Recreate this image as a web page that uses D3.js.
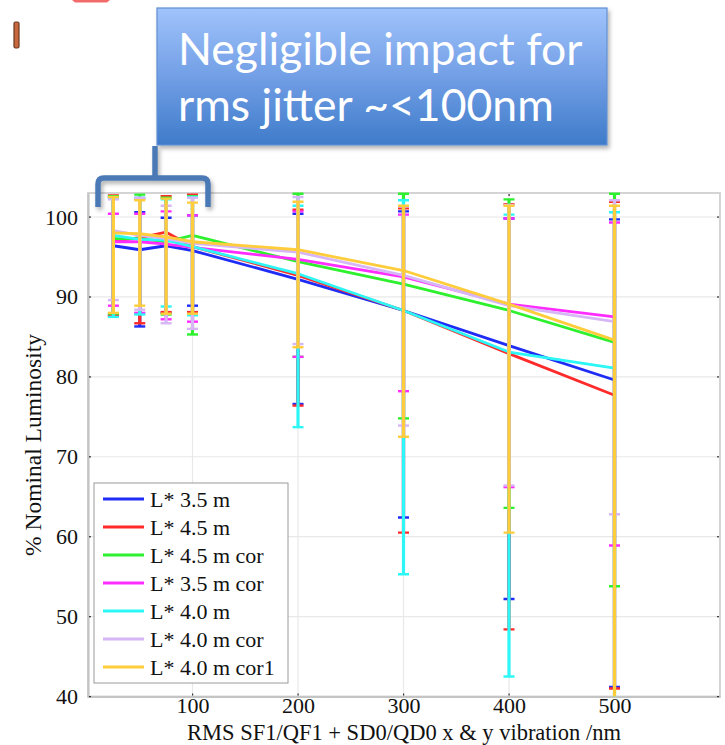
<!DOCTYPE html>
<html>
<head>
<meta charset="utf-8">
<script src="https://cdn.jsdelivr.net/npm/d3@7"></script>
<style>
  body { margin: 0; background: #fff; }
  svg { display: block; }
</style>
</head>
<body>
<div id="chart"></div>
<script>
// rms vibration amplitude (nm)
const vibration = [25, 50, 75, 100, 200, 300, 400, 500];

const seriesNames = ['L* 3.5 m', 'L* 4.5 m', 'L* 4.5 m cor', 'L* 3.5 m cor', 'L* 4.0 m', 'L* 4.0 m cor', 'L* 4.0 m cor1'];
const seriesColors = ['#1f2cf5', '#ff2a2a', '#2ef02e', '#ff2cff', '#2cf6f6', '#d6b6f6', '#ffcd3c'];

// mean luminosity (% nominal)
const meanL35 = [96.4, 95.9, 96.4, 95.8, 92.2, 88.3, 83.9, 79.6];
const meanL45 = [97.0, 97.4, 98.1, 96.3, 92.7, 88.3, 82.9, 77.7];
const meanL45cor = [97.3, 97.3, 96.9, 97.7, 94.4, 91.6, 88.3, 84.3];
const meanL35cor = [96.9, 96.9, 96.6, 96.2, 94.7, 92.5, 89.1, 87.5];
const meanL40 = [97.7, 97.2, 97.1, 96.3, 92.9, 88.3, 83.1, 81.1];
const meanL40cor = [98.3, 97.7, 97.3, 96.7, 95.6, 92.7, 88.9, 86.9];
const meanL40cor1 = [98.0, 97.9, 97.5, 96.9, 95.9, 93.3, 89.1, 84.6];

// error bar tops
const upL35 = [102.5, 100.6, 99.9, 100.2, 100.4, 100.7, 99.8, 99.7];
const upL45 = [102.7, 102.3, 102.6, 102.8, 100.9, 101.1, 101.6, 101.9];
const upL45cor = [102.6, 102.8, 102.4, 102.6, 102.9, 102.9, 102.2, 102.9];
const upL35cor = [100.4, 100.4, 100.7, 100.2, 100.7, 100.3, 99.8, 99.3];
const upL40 = [102.3, 102.4, 102.2, 102.5, 101.4, 102.1, 100.3, 100.6];
const upL40cor = [102.2, 102.4, 101.4, 102.4, 102.5, 101.3, 101.5, 102.1];
const upL40cor1 = [102.5, 102.1, 102.3, 101.8, 101.9, 101.4, 101.4, 101.4];

// error bar bottoms
const loL35 = [87.6, 86.3, 88.0, 88.9, 76.6, 62.4, 52.2, 41.2];
const loL45 = [87.7, 86.7, 88.1, 88.1, 76.4, 60.5, 48.4, 41.0];
const loL45cor = [87.9, 87.9, 87.8, 85.3, 82.5, 74.8, 63.6, 53.8];
const loL35cor = [88.9, 88.0, 87.2, 86.9, 82.5, 78.2, 66.2, 58.9];
const loL40 = [87.5, 87.8, 88.8, 87.7, 73.7, 55.3, 42.5, 38.0];
const loL40cor = [89.6, 88.4, 86.7, 86.0, 84.1, 73.9, 66.4, 62.8];
const loL40cor1 = [88.0, 88.9, 87.9, 87.9, 83.7, 72.5, 60.5, 38.0];

const xTicks = [100, 200, 300, 400, 500];
const yTicks = [40, 50, 60, 70, 80, 90, 100];

const means = [meanL35, meanL45, meanL45cor, meanL35cor, meanL40, meanL40cor, meanL40cor1];
const ups = [upL35, upL45, upL45cor, upL35cor, upL40, upL40cor, upL40cor1];
const los = [loL35, loL45, loL45cor, loL35cor, loL40, loL40cor, loL40cor1];

const series = seriesNames.map((name, i) => ({
    name: name,
    color: seriesColors[i],
    points: vibration.map((v, j) => ({x: v, y: means[i][j], lo: los[i][j], hi: ups[i][j]}))
}));

const W = 725, H = 745;
const svg = d3.select('#chart').append('svg').attr('width', W).attr('height', H);

const pLeft = 88, pRight = 720, pTop = 193, pBottom = 696.5;
const x = d3.scaleLinear().domain([0, 600]).range([87, pRight]);
const y = d3.scaleLinear().domain([40, 103]).range([pBottom, pTop]);

const serif = '"Liberation Serif", "Times New Roman", serif';

// grid
svg.append('g').selectAll('line')
    .data(xTicks).enter().append('line')
    .attr('x1', d => x(d)).attr('x2', d => x(d))
    .attr('y1', pTop).attr('y2', pBottom)
    .attr('stroke', '#e8e8e8').attr('stroke-width', 1.2);
svg.append('g').selectAll('line')
    .data(yTicks.slice(1)).enter().append('line')
    .attr('x1', pLeft).attr('x2', pRight)
    .attr('y1', d => y(d)).attr('y2', d => y(d))
    .attr('stroke', '#e8e8e8').attr('stroke-width', 1.2);

// frame
svg.append('rect')
    .attr('x', pLeft).attr('y', pTop)
    .attr('width', pRight - pLeft).attr('height', pBottom - pTop)
    .attr('fill', 'none').attr('stroke', '#d0d0d0').attr('stroke-width', 1.8);

// axes
const xAxis = svg.append('g')
    .attr('transform', `translate(0,${pBottom})`)
    .call(d3.axisBottom(x).tickValues(xTicks).tickSize(0).tickPadding(1));
const yAxis = svg.append('g')
    .attr('transform', `translate(${pLeft},0)`)
    .call(d3.axisLeft(y).tickValues(yTicks).tickSize(0).tickPadding(10));
[xAxis, yAxis].forEach(g => {
    g.select('.domain').attr('stroke', '#c4c4c4').attr('stroke-width', 2.2);
    g.selectAll('text').attr('font-family', serif).attr('font-size', 22).attr('fill', '#111');
});

// little tick dots inside the frame
svg.append('g').selectAll('rect')
    .data(xTicks).enter().append('rect')
    .attr('x', d => x(d) - 0.5).attr('y', pBottom - 3).attr('width', 1.2).attr('height', 2)
    .attr('fill', '#333');
svg.append('g').selectAll('rect')
    .data(xTicks).enter().append('rect')
    .attr('x', d => x(d) - 0.5).attr('y', pTop + 1).attr('width', 1.2).attr('height', 2)
    .attr('fill', '#333');
svg.append('g').selectAll('rect')
    .data(yTicks).enter().append('rect')
    .attr('x', pLeft + 1).attr('y', d => y(d) - 0.5).attr('width', 2).attr('height', 1.2)
    .attr('fill', '#333');
svg.append('g').selectAll('rect')
    .data(yTicks).enter().append('rect')
    .attr('x', pRight - 3).attr('y', d => y(d) - 0.5).attr('width', 2).attr('height', 1.2)
    .attr('fill', '#333');

// axis titles
svg.append('text')
    .attr('x', 404).attr('y', 739.5)
    .attr('text-anchor', 'middle')
    .attr('font-family', serif).attr('font-size', 22.5).attr('fill', '#111')
    .text('RMS SF1/QF1 + SD0/QD0 x & y vibration /nm');
svg.append('text')
    .attr('transform', 'translate(41,445) rotate(-90)')
    .attr('text-anchor', 'middle')
    .attr('font-family', serif).attr('font-size', 23.5).attr('fill', '#111')
    .text('% Nominal Luminosity');

// data
svg.append('clipPath').attr('id', 'plotclip')
    .append('rect').attr('x', pLeft).attr('y', pTop - 1).attr('width', pRight - pLeft).attr('height', pBottom - pTop + 1);
const plot = svg.append('g').attr('clip-path', 'url(#plotclip)');

const line = d3.line().x(d => x(d.x)).y(d => y(d.y));

series.forEach(s => {
    const g = plot.append('g');
    g.append('path')
        .datum(s.points)
        .attr('d', line)
        .attr('fill', 'none')
        .attr('stroke', s.color)
        .attr('stroke-width', 2.8)
        .attr('stroke-linejoin', 'round');
    const eb = g.selectAll('g').data(s.points).enter().append('g');
    eb.append('line')
        .attr('x1', d => x(d.x)).attr('x2', d => x(d.x))
        .attr('y1', d => y(d.lo)).attr('y2', d => y(d.hi))
        .attr('stroke', s.color).attr('stroke-width', 3.2);
    eb.append('line')
        .attr('x1', d => x(d.x) - 5.5).attr('x2', d => x(d.x) + 5.5)
        .attr('y1', d => y(d.hi)).attr('y2', d => y(d.hi))
        .attr('stroke', s.color).attr('stroke-width', 2.4);
    eb.append('line')
        .attr('x1', d => x(d.x) - 5.5).attr('x2', d => x(d.x) + 5.5)
        .attr('y1', d => y(d.lo)).attr('y2', d => y(d.lo))
        .attr('stroke', s.color).attr('stroke-width', 2.4);
});

// legend
const legend = svg.append('g');
legend.append('rect')
    .attr('x', 94).attr('y', 483).attr('width', 194).attr('height', 200)
    .attr('fill', '#fff').attr('stroke', '#9a9a9a').attr('stroke-width', 1);
const rows = legend.selectAll('g').data(series).enter().append('g')
    .attr('transform', (d, i) => `translate(0,${499 + i * 28})`);
rows.append('line')
    .attr('x1', 103).attr('x2', 144).attr('y1', 0).attr('y2', 0)
    .attr('stroke', d => d.color).attr('stroke-width', 2.8);
rows.append('text')
    .attr('x', 150).attr('y', 7.5)
    .attr('font-family', serif).attr('font-size', 22).attr('fill', '#111')
    .text(d => d.name);

// callout box
const defs = svg.append('defs');
const grad = defs.append('linearGradient').attr('id', 'boxgrad')
    .attr('x1', 0).attr('x2', 0).attr('y1', 0).attr('y2', 1);
grad.append('stop').attr('offset', '0%').attr('stop-color', '#a0c3fb');
grad.append('stop').attr('offset', '55%').attr('stop-color', '#6d9be3');
grad.append('stop').attr('offset', '100%').attr('stop-color', '#3e7bc9');
const shadow = defs.append('filter').attr('id', 'shadow').attr('x', -0.1).attr('y', -0.1).attr('width', 1.3).attr('height', 1.4);
shadow.append('feDropShadow').attr('dx', 2).attr('dy', 3).attr('stdDeviation', 2).attr('flood-color', '#000').attr('flood-opacity', 0.3);

svg.append('rect')
    .attr('x', 157).attr('y', 8).attr('width', 450).attr('height', 137)
    .attr('fill', 'url(#boxgrad)').attr('stroke', '#5f8fd3').attr('stroke-width', 1.2)
    .attr('filter', 'url(#shadow)');
const callout = ['Negligible impact for', 'rms jitter ~<100nm'];
svg.append('g').selectAll('text').data(callout).enter().append('text')
    .attr('x', 178).attr('y', (d, i) => 65 + i * 56)
    .attr('font-family', 'Lato, "Open Sans", sans-serif').attr('font-size', 44.5)
    .attr('fill', '#fff')
    .text(d => d);

// bracket
svg.append('path')
    .attr('d', 'M98,207 L98,184 Q98,178 104,178 L202,178 Q208,178 208,184 L208,207 M155,178 L155,146')
    .attr('fill', 'none').attr('stroke', '#4b79b6').attr('stroke-width', 5.5)
    .attr('stroke-linejoin', 'round')
    .attr('filter', 'url(#shadow)');

// slide fragments
svg.append('rect')
    .attr('x', 14).attr('y', 22).attr('width', 5).attr('height', 26).attr('rx', 1.5)
    .attr('fill', '#c8683e').attr('stroke', '#6b3a22').attr('stroke-width', 1.2);
svg.append('path')
    .attr('d', 'M72,0 L110,0 L107,2.5 L75,2.5 Z')
    .attr('fill', '#f36a6a');
</script>
</body>
</html>
